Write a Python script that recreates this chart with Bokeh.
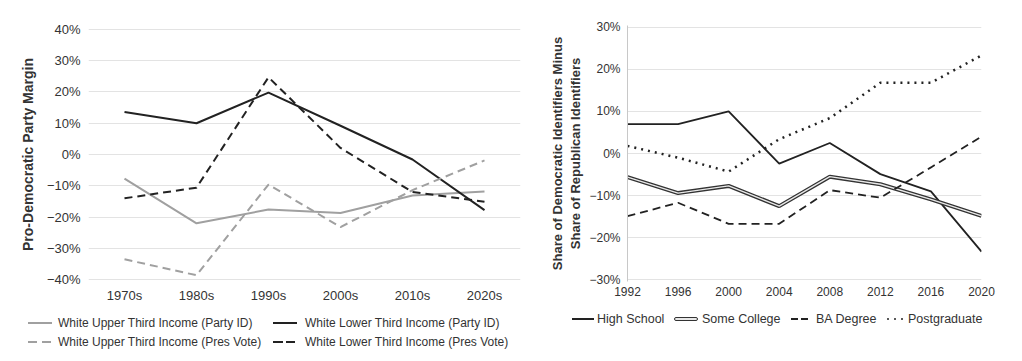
from bokeh.plotting import figure
from bokeh.layouts import row, column
from bokeh.models import FactorRange, Range1d, FixedTicker, Div
from bokeh.embed import file_html
from bokeh.resources import INLINE

# ---------------- data: left panel ----------------
decades = ["1970s", "1980s", "1990s", "2000s", "2010s", "2020s"]
upper_party_id = [-7.7, -22.0, -17.6, -18.7, -13.1, -11.8]
lower_party_id = [13.6, 10.0, 19.8, 9.2, -1.6, -17.8]
upper_pres_vote = [-33.5, -38.6, -9.6, -23.2, -11.4, -1.9]
lower_pres_vote = [-14.0, -10.6, 24.7, 2.1, -12.0, -15.1]
left_ticks = [-40, -30, -20, -10, 0, 10, 20, 30, 40]
left_labels = ["White Upper Third Income (Party ID)", "White Lower Third Income (Party ID)",
               "White Upper Third Income (Pres Vote)", "White Lower Third Income (Pres Vote)"]

# ---------------- data: right panel ----------------
years = [1992, 1996, 2000, 2004, 2008, 2012, 2016, 2020]
high_school = [7.0, 7.0, 10.0, -2.4, 2.5, -4.9, -9.0, -23.3]
some_college = [-5.6, -9.4, -7.7, -12.5, -5.5, -7.3, -10.9, -14.8]
ba_degree = [-14.9, -11.7, -16.7, -16.7, -8.7, -10.5, -3.3, 4.0]
postgraduate = [1.8, -1.0, -4.3, 3.4, 8.4, 16.8, 16.8, 23.3]
right_ticks = [-30, -20, -10, 0, 10, 20, 30]
right_labels = ["High School", "Some College", "BA Degree", "Postgraduate"]

FONT = "Liberation Sans"
TXT = "#333333"
GRID = "#e3e3e3"
DARK = "#222222"
LIGHT = "#a0a0a0"


def pct(v):
    return (f"{v}%").replace("-", "\u2212")


def style_axis(ax, size):
    ax.major_tick_line_color = None
    ax.minor_tick_line_color = None
    ax.major_tick_out = 0
    ax.major_tick_in = 0
    ax.minor_tick_out = 0
    ax.minor_tick_in = 0
    ax.major_label_text_font = FONT
    ax.major_label_text_font_size = size
    ax.major_label_text_color = TXT


# ---- HTML legend helpers (layout only) ----
def seg(x, cy, w, color, h=2):
    return (f'<span style="position:absolute;left:{x}px;top:{cy - h / 2}px;width:{w}px;'
            f'height:{h}px;background:{color};"></span>')


def dot(x, cy, color):
    return (f'<span style="position:absolute;left:{x - 1.2}px;top:{cy - 1.2}px;width:2.4px;'
            f'height:2.4px;border-radius:50%;background:{color};"></span>')


def dbl(x, cy, w):
    return (f'<span style="position:absolute;left:{x}px;top:{cy - 2.5}px;width:{w}px;height:2px;'
            f'background:#e8e8e8;border:1.3px solid #333;border-radius:3px;box-sizing:content-box;"></span>')


def lab(x, cy, text, size):
    return (f'<span style="position:absolute;left:{x}px;top:{cy - 8}px;line-height:16px;'
            f'white-space:nowrap;font-family:\'{FONT}\';font-size:{size};color:{TXT};">{text}</span>')


def box(width, height, inner):
    return (f'<div style="position:relative;width:{width}px;height:{height}px;margin:0;padding:0;">'
            + "".join(inner) + '</div>')


# ---------------- left figure ----------------
p1 = figure(width=523, height=305, output_backend="svg", toolbar_location=None,
            x_range=FactorRange(*decades, range_padding=0),
            y_range=Range1d(-40.6, 40.6),
            min_border_left=88, min_border_right=3, min_border_top=27, min_border_bottom=22)
p1.outline_line_color = None
p1.xgrid.grid_line_color = None
p1.ygrid.grid_line_color = GRID
p1.ygrid.ticker = FixedTicker(ticks=left_ticks)
p1.yaxis.ticker = FixedTicker(ticks=left_ticks)
p1.yaxis.major_label_overrides = {t: pct(t) for t in left_ticks}
for ax in (p1.xaxis[0], p1.yaxis[0]):
    ax.axis_line_color = None
    style_axis(ax, "13px")
p1.yaxis.major_label_standoff = 8
p1.xaxis.major_label_standoff = 6
p1.yaxis.axis_label = "Pro-Democratic Party Margin"
p1.yaxis.axis_label_text_font = FONT
p1.yaxis.axis_label_text_font_style = "bold"
p1.yaxis.axis_label_text_font_size = "14px"
p1.yaxis.axis_label_text_color = TXT
p1.yaxis.axis_label_standoff = 8

p1.line(decades, upper_party_id, line_color=LIGHT, line_width=2)
p1.line(decades, lower_party_id, line_color=DARK, line_width=2)
p1.line(decades, upper_pres_vote, line_color=LIGHT, line_width=2, line_dash="8 5")
p1.line(decades, lower_pres_vote, line_color=DARK, line_width=2, line_dash="8 5")

r0, r1 = 18, 37
left_html = box(523, 48, [
    seg(28, r0, 24, LIGHT), lab(58, r0, left_labels[0], "12px"),
    seg(273, r0, 24, DARK), lab(305, r0, left_labels[1], "12px"),
    seg(28, r1, 9, LIGHT), seg(42, r1, 9, LIGHT), lab(58, r1, left_labels[2], "12px"),
    seg(273, r1, 10, DARK), seg(286, r1, 9, DARK), lab(305, r1, left_labels[3], "12px"),
])
d1 = Div(text=left_html, width=523, height=48, styles={"margin": "0", "padding": "0"})

# ---------------- right figure ----------------
p2 = figure(width=483, height=305, output_backend="svg", toolbar_location=None,
            x_range=Range1d(1992, 2020), y_range=Range1d(-30.4, 30.4),
            min_border_left=104, min_border_right=25, min_border_top=25, min_border_bottom=24)
p2.outline_line_color = None
p2.xgrid.grid_line_color = None
p2.ygrid.grid_line_color = GRID
p2.ygrid.ticker = FixedTicker(ticks=right_ticks)
p2.yaxis.ticker = FixedTicker(ticks=right_ticks)
p2.xaxis.ticker = FixedTicker(ticks=years)
p2.yaxis.major_label_overrides = {t: pct(t) for t in right_ticks}
for ax in (p2.xaxis[0], p2.yaxis[0]):
    style_axis(ax, "12px")
p2.xaxis.axis_line_color = None
p2.yaxis.axis_line_color = "#c8c8c8"
p2.yaxis.major_label_standoff = 7
p2.xaxis.major_label_standoff = 5
p2.yaxis.axis_label = "Share of Democratic Identifiers Minus\nShare of Republican Identifiers"
p2.yaxis.axis_label_text_font = FONT
p2.yaxis.axis_label_text_font_style = "bold"
p2.yaxis.axis_label_text_font_size = "13px"
p2.yaxis.axis_label_text_color = TXT
p2.yaxis.axis_label_standoff = 3

p2.line(years, high_school, line_color=DARK, line_width=1.8)
p2.line(years, some_college, line_color="#333333", line_width=4)
p2.line(years, some_college, line_color="#e8e8e8", line_width=1.4)
p2.line(years, ba_degree, line_color=DARK, line_width=1.8, line_dash="8 5")
p2.line(years, postgraduate, line_color=DARK, line_width=2.5, line_dash="2 5")

rc = 14
right_html = box(483, 48, [
    seg(49, rc, 22, DARK), lab(74, rc, right_labels[0], "12.5px"),
    dbl(151, rc, 22), lab(179, rc, right_labels[1], "12.5px"),
    seg(268, rc, 7, DARK), seg(278, rc, 7, DARK), lab(293, rc, right_labels[2], "12.5px"),
    dot(365, rc, DARK), dot(372, rc, DARK), dot(379, rc, DARK),
    lab(385, rc, right_labels[3], "12.5px"),
])
d2 = Div(text=right_html, width=483, height=48, styles={"margin": "0", "padding": "0"})

layout = row(column(p1, d1, spacing=0), column(p2, d2, spacing=0), spacing=0)
open("out.html", "w").write(file_html(layout, INLINE))
